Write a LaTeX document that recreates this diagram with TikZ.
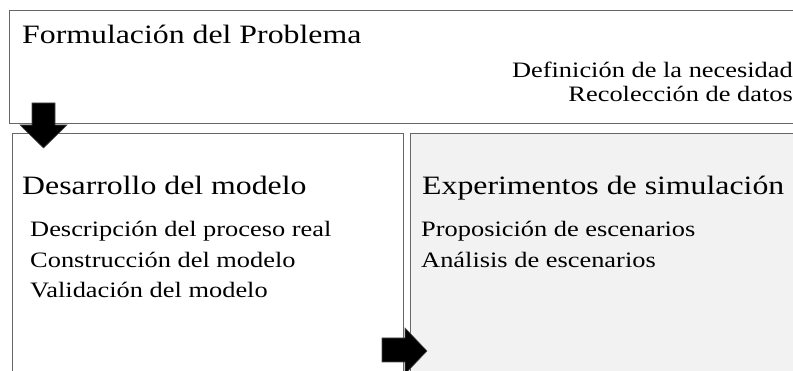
\documentclass[tikz,border=0pt]{standalone}
\usepackage{fontspec}
\setmainfont[FakeStretch=1.2]{Liberation Serif}
\begin{document}
\begin{tikzpicture}[x=1pt,y=-1pt,
  boxline/.style={draw=black!60, line width=0.9pt},
  titletext/.style={anchor=base west, inner sep=0pt, font=\fontsize{26.5}{30}\selectfont},
  itemtext/.style={anchor=base west, inner sep=0pt, font=\fontsize{22}{26}\selectfont},
  righttext/.style={anchor=base east, inner sep=0pt, font=\fontsize{22}{26}\selectfont},
  bigarrow/.style={fill=black, draw=black!70, line width=0.6pt, line join=miter}]
\useasboundingbox (0,0) rectangle (793,371);
\clip (0,0) rectangle (793,371);
% boxes
\draw[boxline, fill=white] (9.5,10) rectangle (820,123);
\draw[boxline, fill=white] (12,133) rectangle (403,390);
\draw[boxline, fill=black!5!white] (410,133) rectangle (820,390);
\coordinate (topbox) at (9.5,10);
\coordinate (leftbox) at (12,133);
\coordinate (rightbox) at (410,133);
% texts
\node[titletext] (t1) at (22,44) {Formulación del Problema};
\node[righttext] (d1) at (793,78) {Definición de la necesidad};
\node[righttext] (d2) at (793,102) {Recolección de datos};
\node[titletext] (t2) at (22,195) {Desarrollo del modelo};
\node[titletext] (t3) at (422,195) {Experimentos de simulación};
\node[itemtext] (l1) at (30,237) {Descripción del proceso real};
\node[itemtext] (l2) at (30,268) {Construcción del modelo};
\node[itemtext] (l3) at (30,298) {Validación del modelo};
\node[itemtext] (r1) at (421,237) {Proposición de escenarios};
\node[itemtext] (r2) at (421,268) {Análisis de escenarios};
% arrows
\draw[bigarrow] (32,103) -- (55,103) -- (55,125) -- (67,125) -- (43.5,148) -- (20,125) -- (32,125) -- cycle;
\draw[bigarrow] (382,338) -- (405,338) -- (405,328) -- (427,351) -- (405,374) -- (405,362) -- (382,362) -- cycle;
\end{tikzpicture}
\end{document}
